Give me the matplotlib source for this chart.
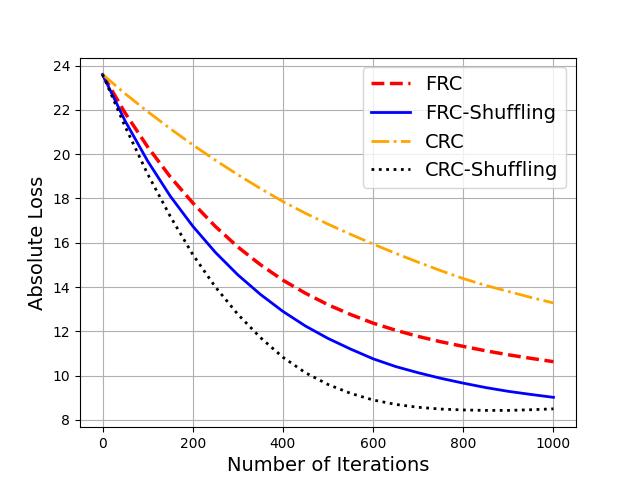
import numpy as np
import matplotlib
matplotlib.use('Agg')
import matplotlib.pyplot as plt

# values, every 50 iterations
iters = [0, 50, 100, 150, 200, 250, 300, 350, 400, 450, 500,
         550, 600, 650, 700, 750, 800, 850, 900, 950, 1000]
frc = [23.6, 21.86, 20.33, 18.98, 17.8, 16.74, 15.81, 15.01, 14.31, 13.72, 13.2,
       12.76, 12.37, 12.05, 11.77, 11.53, 11.32, 11.12, 10.94, 10.78, 10.63]
frc_shuf = [23.6, 21.5, 19.69, 18.11, 16.75, 15.57, 14.55, 13.67, 12.9, 12.24, 11.68,
            11.2, 10.76, 10.41, 10.13, 9.88, 9.66, 9.46, 9.29, 9.15, 9.02]
crc = [23.6, 22.73, 21.92, 21.15, 20.42, 19.73, 19.07, 18.45, 17.86, 17.33, 16.84,
       16.38, 15.94, 15.52, 15.12, 14.74, 14.38, 14.07, 13.8, 13.53, 13.28]
crc_shuf = [23.6, 21.25, 19.1, 17.2, 15.47, 14.01, 12.77, 11.72, 10.83, 10.13, 9.6,
            9.2, 8.9, 8.7, 8.57, 8.49, 8.45, 8.43, 8.43, 8.46, 8.5]

fig, ax = plt.subplots(figsize=(6.4, 4.8), dpi=100)
ax.plot(iters, frc, color='red', linestyle='--', linewidth=2.5, label='FRC')
ax.plot(iters, frc_shuf, color='blue', linestyle='-', linewidth=2, label='FRC-Shuffling')
ax.plot(iters, crc, color='orange', linestyle='-.', linewidth=2, label='CRC')
ax.plot(iters, crc_shuf, color='black', linestyle=':', linewidth=2, label='CRC-Shuffling')

ax.set_xlabel('Number of Iterations', fontsize=14)
ax.set_ylabel('Absolute Loss', fontsize=14)
ax.grid(True)
ax.legend(loc='upper right', fontsize=14)

plt.savefig('out.png')
